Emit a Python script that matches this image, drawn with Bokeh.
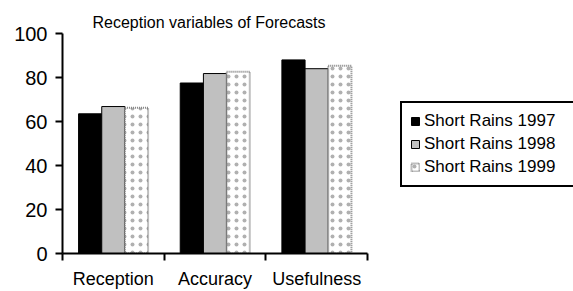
from bokeh.plotting import figure
from bokeh.models import (ColumnDataSource, Range1d, FixedTicker, Legend, LegendItem)
from bokeh.transform import dodge
from bokeh.layouts import row
from bokeh.embed import file_html
from bokeh.resources import INLINE

categories = ["Reception", "Accuracy", "Usefulness"]
sr1997 = [63.5, 77.5, 88.0]
sr1998 = [66.8, 81.8, 84.0]
sr1999 = [66.3, 82.6, 85.3]
series_names = ["Short Rains 1997", "Short Rains 1998", "Short Rains 1999"]
y_ticks = [0, 20, 40, 60, 80, 100]

xpos = [i + 0.5 for i in range(len(categories))]
src = ColumnDataSource(dict(x=xpos, a=sr1997, b=sr1998, c=sr1999))

FONT = "Liberation Sans"
p = figure(width=377, height=291, output_backend="svg", toolbar_location=None,
           x_range=Range1d(0, len(categories)), y_range=Range1d(0, 100),
           min_border_left=62, min_border_right=10, min_border_top=33, min_border_bottom=37,
           title="Reception variables of Forecasts")
p.outline_line_color = None
p.xgrid.visible = False
p.ygrid.visible = False
p.background_fill_color = "white"
p.border_fill_color = "white"

p.title.text_font = FONT
p.title.text_font_size = "16px"
p.title.text_font_style = "normal"
p.title.text_color = "black"
p.title.align = "left"
p.title.offset = 30
p.title.standoff = 5

bw = 0.228
styles = [
    dict(fill_color="black", line_color="black", line_width=1),
    dict(fill_color="#C0C0C0", line_color="black", line_width=1),
    dict(fill_color="white", line_color="#808080", line_width=2, line_dash="1 1",
         hatch_pattern="dot", hatch_color="#B0B0B0", hatch_scale=8, hatch_weight=0.5),
]
cols = ["a", "b", "c"]
offsets = [-bw, 0, bw]
for col, off, st in zip(cols, offsets, styles):
    p.vbar(x=dodge("x", off, range=p.x_range), top=col, width=bw, source=src, **st)

# y axis
ya = p.yaxis[0]
ya.ticker = FixedTicker(ticks=y_ticks)
ya.axis_line_width = 2
ya.major_tick_line_width = 2
ya.major_tick_out = 7
ya.major_tick_in = 0
ya.minor_tick_line_color = None
ya.major_label_text_font = FONT
ya.major_label_text_font_size = "20px"
ya.major_label_text_color = "black"
ya.major_label_standoff = 8

# x axis
xa = p.xaxis[0]
xa.ticker = FixedTicker(ticks=xpos, minor_ticks=list(range(len(categories) + 1)))
xa.major_label_overrides = {x: c for x, c in zip(xpos, categories)}
xa.axis_line_width = 2
xa.major_tick_line_color = None
xa.major_tick_out = 0
xa.major_tick_in = 0
xa.minor_tick_line_width = 2
xa.minor_tick_out = 7
xa.minor_tick_in = 0
xa.major_label_text_font = FONT
xa.major_label_text_font_size = "18px"
xa.major_label_text_color = "black"
xa.major_label_standoff = 8

# legend panel
p2 = figure(width=196, height=291, output_backend="svg", toolbar_location=None,
            x_range=Range1d(0, 1), y_range=Range1d(0, 1),
            x_axis_location=None, y_axis_location=None,
            min_border_left=0, min_border_right=0, min_border_top=0, min_border_bottom=0)
p2.outline_line_color = None
p2.xgrid.visible = False
p2.ygrid.visible = False
nan = float("nan")
hidden = ColumnDataSource(dict(x=[nan], top=[nan]))
rs = [p2.vbar(x="x", top="top", width=0.1, source=hidden, **st) for st in styles]

legend = Legend(items=[LegendItem(label=n, renderers=[r]) for n, r in zip(series_names, rs)],
                location=(23, 66))
legend.border_line_color = "black"
legend.border_line_width = 2
legend.border_line_alpha = 1
legend.background_fill_color = "white"
legend.background_fill_alpha = 1
legend.label_text_font = FONT
legend.label_text_font_size = "17px"
legend.label_text_line_height = 1.0
legend.label_text_color = "black"
legend.glyph_width = 10
legend.glyph_height = 10
legend.label_height = 19
legend.label_standoff = 4
legend.label_width = 141
legend.padding = 8
legend.spacing = 3
legend.margin = 0
p2.add_layout(legend, "center")

layout = row(p, p2)
open("out.html", "w").write(file_html(layout, INLINE))
